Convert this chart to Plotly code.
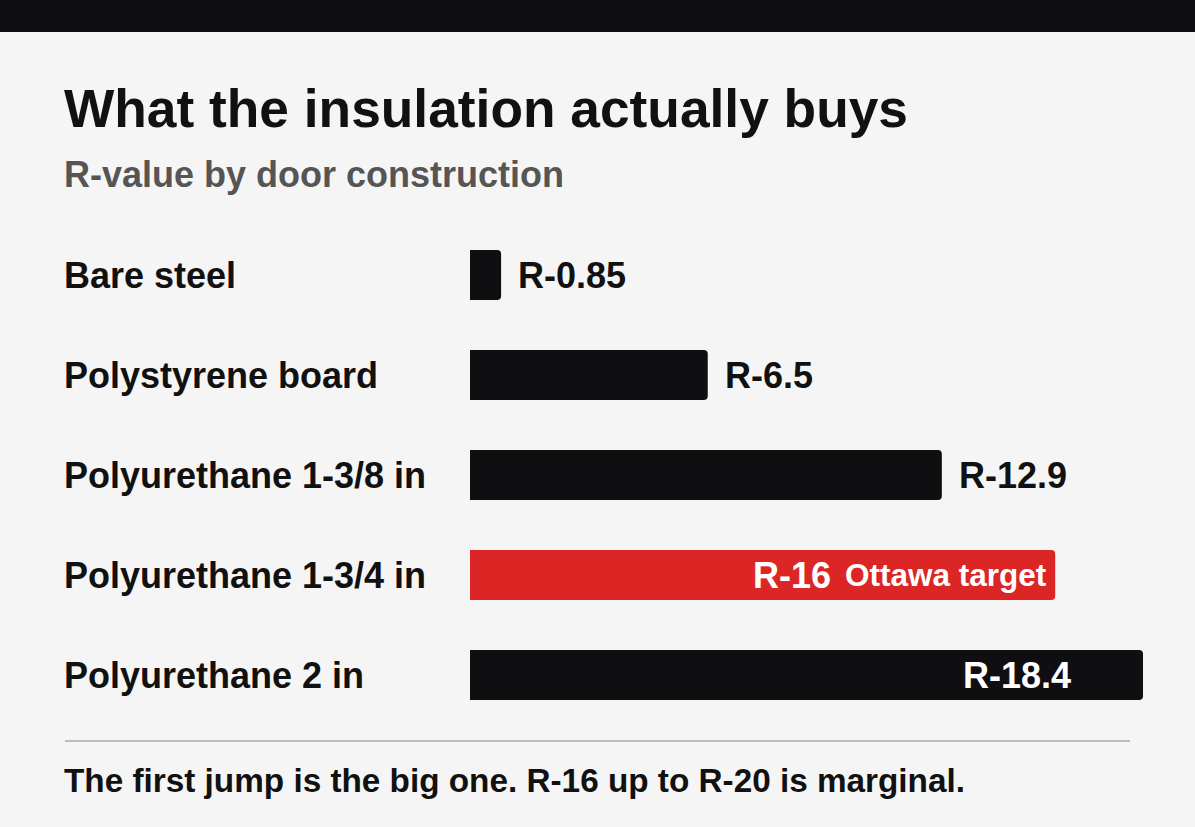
import plotly.graph_objects as go

# data
categories = ["Bare steel", "Polystyrene board", "Polyurethane 1-3/8 in",
              "Polyurethane 1-3/4 in", "Polyurethane 2 in"]
r_values = [0.85, 6.5, 12.9, 16, 18.4]
value_labels = ["R-0.85", "R-6.5", "R-12.9", "R-16", "R-18.4"]
bar_colors = ["#0f0f11", "#0f0f11", "#0f0f11", "#dc2626", "#0f0f11"]
target_category = "Polyurethane 1-3/4 in"
target_label = "Ottawa target"

title = "What the insulation actually buys"
subtitle = "R-value by door construction"
footnote = "The first jump is the big one. R-16 up to R-20 is marginal."

W, H = 1195, 827
L, R, T, B = 470, 52, 225, 102
pw, ph = W - L - R, H - T - B
FONT = "Liberation Sans, Arial, Helvetica, sans-serif"
BG = "#f5f5f5"
INK = "#111111"


def px(x):
    return (x - L) / pw


def py(y):
    return (H - B - y) / ph


fig = go.Figure()
fig.add_trace(go.Bar(
    x=r_values, y=categories, orientation="h",
    marker=dict(color=bar_colors, cornerradius=4, line=dict(width=0)),
    hoverinfo="skip",
))

annotations = []
# category labels on the left
for c in categories:
    annotations.append(dict(x=px(62), xref="paper", y=c, yref="y", text=c,
                            xanchor="left", yanchor="middle", showarrow=False,
                            font=dict(family=FONT, size=36, color=INK, weight=700)))

# value labels: outside for short bars, inside for the long ones
for c, v, lab in zip(categories, r_values, value_labels):
    if c == target_category:
        annotations.append(dict(x=v, y=c, text=lab, xanchor="right", xshift=-222,
                                showarrow=False,
                                font=dict(family=FONT, size=36, color="white", weight=700)))
        annotations.append(dict(x=v, y=c, text=target_label, xanchor="right", xshift=-6,
                                showarrow=False, bgcolor="#dc2626",
                                font=dict(family=FONT, size=31.5, color="white", weight=700)))
    elif v > 15:
        annotations.append(dict(x=v, y=c, text=lab, xanchor="right", xshift=-70,
                                showarrow=False,
                                font=dict(family=FONT, size=36, color="white", weight=700)))
    else:
        annotations.append(dict(x=v, y=c, text=lab, xanchor="left", xshift=15,
                                showarrow=False,
                                font=dict(family=FONT, size=36, color=INK, weight=700)))

# title, subtitle, footnote
annotations.append(dict(x=px(62), xref="paper", y=py(108), yref="paper", text=title,
                        xanchor="left", yanchor="middle", showarrow=False,
                        font=dict(family=FONT, size=53.3, color=INK, weight=700)))
annotations.append(dict(x=px(62), xref="paper", y=py(175), yref="paper", text=subtitle,
                        xanchor="left", yanchor="middle", showarrow=False,
                        font=dict(family=FONT, size=36, color="#555555", weight=700)))
annotations.append(dict(x=px(62), xref="paper", y=py(780), yref="paper", text=footnote,
                        xanchor="left", yanchor="middle", showarrow=False,
                        font=dict(family=FONT, size=33.3, color=INK, weight=700)))

shapes = [
    # top black band
    dict(type="rect", xref="paper", yref="paper", x0=px(0), x1=px(W), y0=py(32), y1=py(0),
         fillcolor="#0f0f11", line=dict(width=0), layer="below"),
    # rule above footnote
    dict(type="line", xref="paper", yref="paper", x0=px(65), x1=px(1130), y0=py(741), y1=py(741),
         line=dict(color="#bdbdbd", width=2)),
]

fig.update_layout(
    width=W, height=H,
    margin=dict(l=L, r=R, t=T, b=B, pad=0),
    paper_bgcolor=BG, plot_bgcolor=BG,
    bargap=0.5, showlegend=False,
    xaxis=dict(range=[0, 18.4], visible=False, fixedrange=True),
    yaxis=dict(categoryorder="array", categoryarray=categories, autorange="reversed",
               visible=False, fixedrange=True),
    annotations=annotations, shapes=shapes,
)

# drop the default 8px page margin so the figure fills the window
fig.write_html("out.html", config={"displayModeBar": False},
               post_script="document.body.style.margin='0';")
